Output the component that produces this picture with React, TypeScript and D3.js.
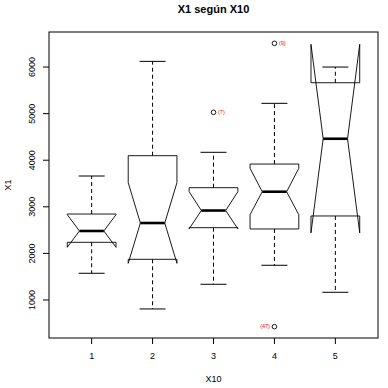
import React from 'react';
import * as d3 from 'd3';

// box stats, one value per group
const groups = ['1', '2', '3', '4', '5'];
const lowerWhisker = [1573, 807, 1337, 1745, 1165];
const q1 = [2238, 1873, 2552, 2524, 2803];
const median = [2481, 2652, 2920, 3324, 4461];
const q3 = [2845, 4097, 3410, 3918, 5663];
const upperWhisker = [3661, 6122, 4170, 5221, 6000];
const notchLow = [2131, 1787, 2526, 2830, 2440];
const notchHigh = [2831, 3517, 3324, 3826, 6487];

const outlierGroup = [3, 4, 4];
const outlierValue = [5028, 6509, 427];
const outlierLabel = ['(7)', '(9)', '(47)'];
const outlierSide = ['right', 'right', 'left'];

const yTicks = [1000, 2000, 3000, 4000, 5000, 6000];

const title = 'X1 según X10';
const xTitle = 'X10';
const yTitle = 'X1';

const W = 388;
const H = 388;
const margin = { top: 32, right: 10, bottom: 50, left: 49 };
const font = '"Liberation Sans", Arial, Helvetica, sans-serif';

const App = () => {
  const innerW = W - margin.left - margin.right;
  const innerH = H - margin.top - margin.bottom;

  // R style 4% padding on both axes
  const lo = Math.min(d3.min(outlierValue)!, d3.min(notchLow)!, d3.min(lowerWhisker)!);
  const hi = Math.max(d3.max(outlierValue)!, d3.max(notchHigh)!, d3.max(upperWhisker)!);
  const pad = (hi - lo) * 0.04;

  const x = d3.scaleLinear().domain([0.3, groups.length + 0.7]).range([margin.left, margin.left + innerW]);
  const y = d3.scaleLinear().domain([lo - pad, hi + pad]).range([margin.top + innerH, margin.top]);

  const halfBox = (x(1.4) - x(1)) ; // box width 0.8
  const halfNotch = halfBox / 2;
  const halfStaple = 13;

  return (
    <svg width={W} height={H} style={{ position: 'absolute', left: 0, top: 0, background: '#fff' }}>
      <text x={margin.left + innerW / 2} y={13} textAnchor="middle" fontFamily={font} fontWeight="bold" fontSize={11}>
        {title}
      </text>

      {groups.map((g, i) => {
        const cx = x(i + 1);
        const pts: [number, number][] = [
          [cx - halfBox, y(q1[i])],
          [cx + halfBox, y(q1[i])],
          [cx + halfBox, y(notchLow[i])],
          [cx + halfNotch, y(median[i])],
          [cx + halfBox, y(notchHigh[i])],
          [cx + halfBox, y(q3[i])],
          [cx - halfBox, y(q3[i])],
          [cx - halfBox, y(notchHigh[i])],
          [cx - halfNotch, y(median[i])],
          [cx - halfBox, y(notchLow[i])],
        ];
        const path = d3.line()(pts) + 'Z';
        return (
          <g key={g}>
            <line x1={cx} x2={cx} y1={y(q3[i])} y2={y(upperWhisker[i])} stroke="#000" strokeDasharray="4,3" />
            <line x1={cx} x2={cx} y1={y(q1[i])} y2={y(lowerWhisker[i])} stroke="#000" strokeDasharray="4,3" />
            <line x1={cx - halfStaple} x2={cx + halfStaple} y1={y(upperWhisker[i])} y2={y(upperWhisker[i])} stroke="#000" />
            <line x1={cx - halfStaple} x2={cx + halfStaple} y1={y(lowerWhisker[i])} y2={y(lowerWhisker[i])} stroke="#000" />
            <path d={path} fill="none" stroke="#000" strokeWidth={0.9} />
            <line x1={cx - halfNotch} x2={cx + halfNotch} y1={y(median[i])} y2={y(median[i])} stroke="#000" strokeWidth={2.6} />
          </g>
        );
      })}

      {outlierValue.map((v, k) => {
        const cx = x(outlierGroup[k]);
        const cy = y(v);
        const right = outlierSide[k] === 'right';
        return (
          <g key={k}>
            <circle cx={cx} cy={cy} r={2.3} fill="none" stroke="#000" strokeWidth={0.9} />
            <text
              x={right ? cx + 4.5 : cx - 4.5}
              y={cy + 1.5}
              textAnchor={right ? 'start' : 'end'}
              fontFamily={font}
              fontSize={5.5}
              fill="#ff0000"
            >
              {outlierLabel[k]}
            </text>
          </g>
        );
      })}

      <rect x={margin.left} y={margin.top} width={innerW} height={innerH} fill="none" stroke="#000" />

      {/* x axis */}
      {groups.map((g, i) => (
        <g key={'xt' + g}>
          <line x1={x(i + 1)} x2={x(i + 1)} y1={margin.top + innerH} y2={margin.top + innerH + 6} stroke="#000" />
          <text x={x(i + 1)} y={359} textAnchor="middle" fontFamily={font} fontSize={9}>
            {g}
          </text>
        </g>
      ))}

      {/* y axis */}
      {yTicks.map((t) => (
        <g key={'yt' + t}>
          <line x1={margin.left - 6} x2={margin.left} y1={y(t)} y2={y(t)} stroke="#000" />
          <text transform={`translate(35,${y(t)}) rotate(-90)`} textAnchor="middle" fontFamily={font} fontSize={9}>
            {t}
          </text>
        </g>
      ))}

      <text x={margin.left + innerW / 2} y={382} textAnchor="middle" fontFamily={font} fontSize={9}>
        {xTitle}
      </text>
      <text transform={`translate(11,${margin.top + innerH / 2}) rotate(-90)`} textAnchor="middle" fontFamily={font} fontSize={9}>
        {yTitle}
      </text>
    </svg>
  );
};

export default App;
